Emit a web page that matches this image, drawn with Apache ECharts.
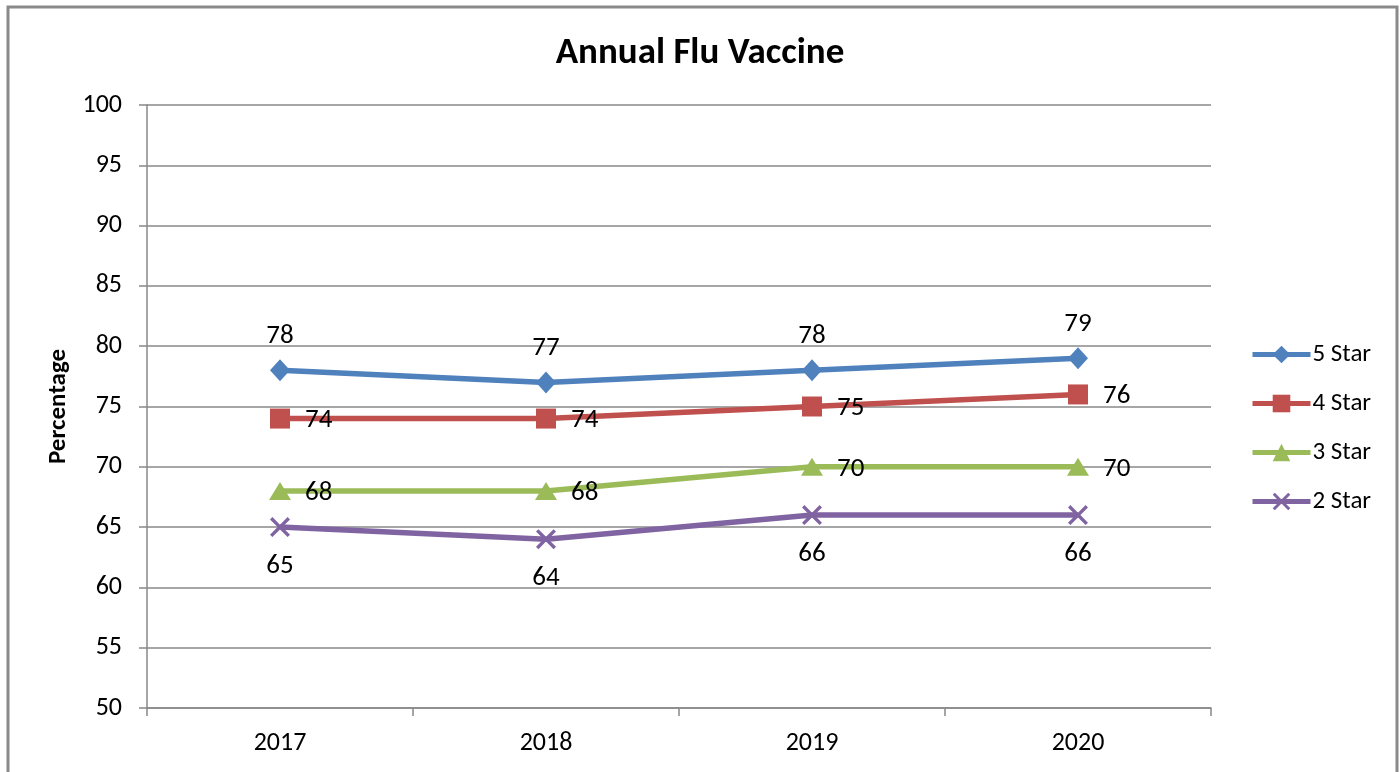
<!DOCTYPE html>
<html>
<head>
<meta charset="utf-8">
<script src="https://cdn.jsdelivr.net/npm/echarts@6/dist/echarts.min.js"></script>
<style>
html,body{margin:0;padding:0;background:#fff;}
#c{width:1400px;height:772px;}
</style>
</head>
<body>
<div id="c"></div>
<script>
const categories = ['2017', '2018', '2019', '2020'];
const star5 = [78, 77, 78, 79];
const star4 = [74, 74, 75, 76];
const star3 = [68, 68, 70, 70];
const star2 = [65, 64, 66, 66];
const seriesNames = ['5 Star', '4 Star', '3 Star', '2 Star'];

const FONT = 'Carlito, Lato, "Open Sans", sans-serif';
const xPath = 'path://M0,1.2 L1.2,0 L5,3.8 L8.8,0 L10,1.2 L6.2,5 L10,8.8 L8.8,10 L5,6.2 L1.2,10 L0,8.8 L3.8,5 Z';

const chart = echarts.init(document.getElementById('c'));
function mk(name, data, color, symbol, size, pos, offset) {
  return {
    name: name, type: 'line', data: data,
    symbol: symbol, symbolSize: size,
    lineStyle: {color: color, width: 5.5},
    itemStyle: {color: color},
    label: {show: true, position: pos, offset: offset, color: '#000', fontSize: 27, fontFamily: FONT, distance: 0},
    emphasis: {disabled: true},
    z: 3
  };
}
chart.setOption({
  animation: false,
  backgroundColor: '#fff',
  title: {text: 'Annual Flu Vaccine', left: 'center', top: 30,
    textStyle: {fontSize: 37, fontWeight: 'bold', color: '#000', fontFamily: FONT}},
  graphic: [{type: 'rect', shape: {x: 8, y: 7, width: 1389, height: 800},
    style: {fill: 'none', stroke: '#8a8a8a', lineWidth: 3}, silent: true}],
  legend: {orient: 'vertical', left: 1245, top: 337, itemGap: 24, itemWidth: 58, itemHeight: 22,
    lineStyle: {width: 5},
    textStyle: {fontSize: 25, color: '#000', fontFamily: FONT, padding: [0, 0, 0, -3]},
    data: seriesNames},
  grid: {left: 147, right: 189, top: 105, bottom: 64},
  xAxis: {type: 'category', data: categories, boundaryGap: true,
    axisLine: {lineStyle: {color: '#888', width: 1.5}},
    axisTick: {show: true, length: 8, lineStyle: {color: '#888', width: 1.5}},
    axisLabel: {fontSize: 26, color: '#000', fontFamily: FONT, margin: 22}},
  yAxis: {type: 'value', min: 50, max: 100, interval: 5,
    name: 'Percentage', nameLocation: 'middle', nameGap: 74, nameRotate: 90,
    nameTextStyle: {fontSize: 25, fontWeight: 'bold', color: '#000', fontFamily: FONT},
    axisLine: {show: true, lineStyle: {color: '#888', width: 1.5}},
    axisTick: {show: true, length: 8, lineStyle: {color: '#888', width: 1.5}},
    splitLine: {lineStyle: {color: '#888', width: 1.5}},
    axisLabel: {fontSize: 26, color: '#000', fontFamily: FONT, margin: 25}},
  series: [
    mk('5 Star', star5, '#4F81BD', 'diamond', [20, 22], 'top', [0, -10]),
    mk('4 Star', star4, '#C0504D', 'rect', 20, 'right', [15, 2]),
    mk('3 Star', star3, '#9BBB59', 'triangle', [22, 18], 'right', [14, 2]),
    mk('2 Star', star2, '#8064A2', xPath, 20, 'bottom', [0, 16])
  ]
});
</script>
</body>
</html>
